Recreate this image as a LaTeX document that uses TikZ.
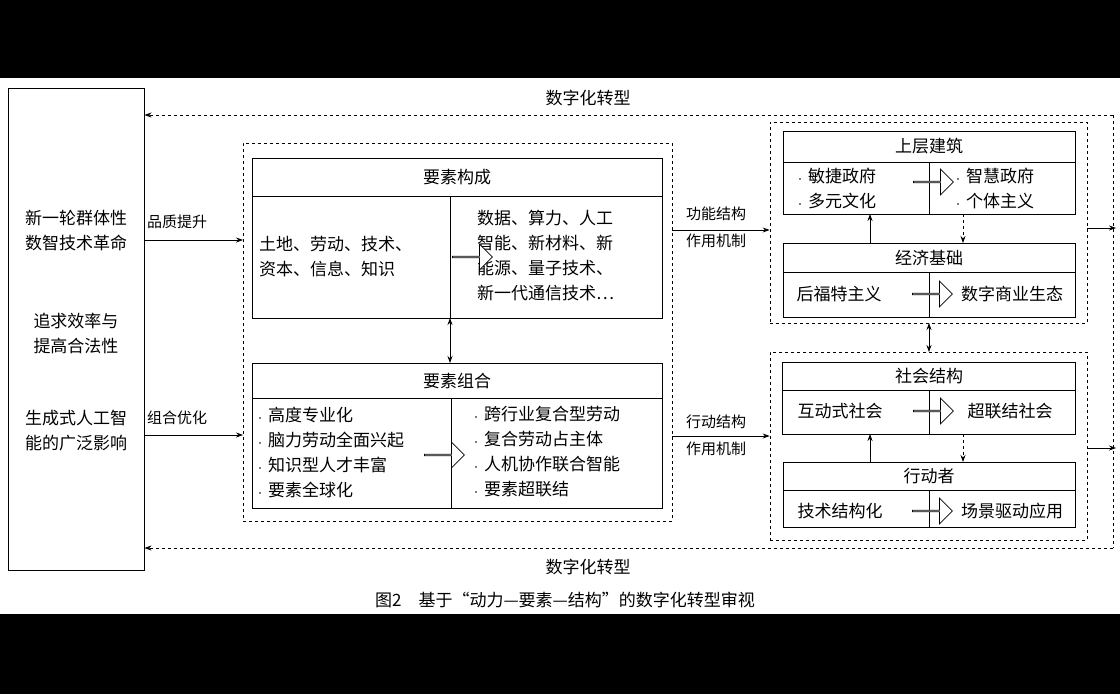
\documentclass[tikz,border=0pt]{standalone}
\usepackage{fontspec}
\setmainfont{Noto Sans CJK SC}
\usetikzlibrary{shapes.arrows,arrows.meta}
\newcommand{\bul}{{\fontsize{8}{8}\selectfont •}\hspace{4pt}}
\begin{document}
\begin{tikzpicture}[x=1pt,y=-1pt,
  box/.style={draw,line width=0.9pt,inner sep=0pt},
  dbox/.style={draw,dashed,line width=0.7pt,inner sep=0pt},
  txt/.style={font=\fontsize{17}{25}\selectfont,inner sep=0pt,align=left},
  lbl/.style={font=\fontsize{15}{27}\selectfont,inner sep=0pt,align=left},
  blk/.style={single arrow,draw,fill=white,line width=0.8pt,minimum height=40pt,minimum width=26pt,single arrow head extend=6pt,single arrow head indent=0pt,inner sep=0pt},
  arr/.style={-{Stealth[length=7pt,width=5pt]},line width=0.8pt},
  darr/.style={-{Stealth[length=7pt,width=5pt]},line width=0.8pt,dashed}]
\fill[black] (0,0) rectangle (1120,78);
\fill[black] (0,614) rectangle (1120,694);
\fill[white] (0,78) rectangle (1120,614);
% left box
\node[box,minimum width=136pt,minimum height=482pt] (L) at (76,329) {};
\node[txt,align=center] (l1) at (76,231) {新一轮群体性\\数智技术革命};
\node[txt,align=center] (l2) at (76,333) {追求效率与\\提高合法性};
\node[txt,align=center] (l3) at (76,431) {生成式人工智\\能的广泛影响};
% middle dashed
\node[dbox,minimum width=429pt,minimum height=378pt] (M) at (457.5,332) {};
\node[box,minimum width=410pt,minimum height=160pt] (YG) at (457,238) {};
\draw[line width=0.9pt] (252,196)--(662,196) (450,196)--(450,318);
\node[txt] (YGh) at (457,177) {要素构成};
\node[txt,anchor=west] (YGl) at (259,257) {土地、劳动、技术、\\资本、信息、知识};
\node[txt,anchor=west] (YGr) at (477,256) {数据、算力、人工\\智能、新材料、新\\能源、量子技术、\\新一代通信技术…};
\node[blk] (YGa) at (472,257) {};
\node[box,minimum width=410pt,minimum height=145pt] (YZ) at (457,435.5) {};
\draw[line width=0.9pt] (252,398)--(662,398) (451,398)--(451,508);
\node[txt] (YZh) at (457,381) {要素组合};
\node[txt,anchor=west] (YZl) at (256,452) {\bul 高度专业化\\\bul 脑力劳动全面兴起\\\bul 知识型人才丰富\\\bul 要素全球化};
\node[txt,anchor=west] (YZr) at (472,452) {\bul 跨行业复合型劳动\\\bul 复合劳动占主体\\\bul 人机协作联合智能\\\bul 要素超联结};
\node[blk] (YZa) at (444,455) {};
\draw[{Stealth[length=7pt,width=5pt]}-{Stealth[length=7pt,width=5pt]},line width=0.8pt] (450,318)--(450,363);
% left arrows
\coordinate (a1) at (144,240); \coordinate (a2) at (144,435);
\draw[arr] (a1)--(243,240);
\draw[arr] (a2)--(243,435);
\node[lbl] (p1) at (177,222) {品质提升};
\node[lbl] (p2) at (177,418) {组合优化};
% right dashed boxes
\node[dbox,minimum width=317pt,minimum height=201pt] (R1) at (928.5,222.5) {};
\node[dbox,minimum width=317pt,minimum height=188pt] (R2) at (928.5,446) {};
\draw[arr] (M.east|-0,230)--(R1.west|-0,230);
\draw[arr] (M.east|-0,436)--(R2.west|-0,436);
\node[lbl,align=center] (f1) at (716,227) {功能结构\\作用机制};
\node[lbl,align=center] (f2) at (716,435) {行动结构\\作用机制};
% 上层建筑
\node[box,minimum width=292pt,minimum height=83pt] (SC) at (929,172.5) {};
\draw[line width=0.9pt] (783,162)--(1075,162) (929,162)--(929,214);
\node[txt] (SCh) at (929,146) {上层建筑};
\node[txt,anchor=west] (SCl) at (796,188) {\bul 敏捷政府\\\bul 多元文化};
\node[txt,anchor=west] (SCr) at (954,188) {\bul 智慧政府\\\bul 个体主义};
\node[blk] (SCa) at (933,182) {};
% 经济基础
\node[box,minimum width=292pt,minimum height=74pt] (JJ) at (929,280) {};
\draw[line width=0.9pt] (783,272)--(1075,272) (929,272)--(929,317);
\node[txt] (JJh) at (929,258) {经济基础};
\node[txt] (JJl) at (839,294) {后福特主义};
\node[txt] (JJr) at (1012,294) {数字商业生态};
\node[blk] (JJa) at (932,294) {};
\draw[arr] (870,243)--(870,214);
\draw[darr] (963,214)--(963,243);
\draw[{Stealth[length=7pt,width=5pt]}-{Stealth[length=7pt,width=5pt]},line width=0.8pt] (929,323)--(929,352);
% 社会结构
\node[box,minimum width=293pt,minimum height=72pt] (SH) at (928.5,398) {};
\draw[line width=0.9pt] (782,390)--(1075,390) (929,390)--(929,434);
\node[txt] (SHh) at (929,376) {社会结构};
\node[txt] (SHl) at (840,411) {互动式社会};
\node[txt] (SHr) at (1010,411) {超联结社会};
\node[blk] (SHa) at (933,411) {};
% 行动者
\node[box,minimum width=292pt,minimum height=65pt] (XD) at (929,494.5) {};
\draw[line width=0.9pt] (783,490)--(1075,490) (929,490)--(929,527);
\node[txt] (XDh) at (929,476) {行动者};
\node[txt] (XDl) at (840,511) {技术结构化};
\node[txt] (XDr) at (1012,511) {场景驱动应用};
\node[blk] (XDa) at (932,511) {};
\draw[arr] (870,462)--(870,434);
\draw[darr] (963,434)--(963,462);
% outer feedback
\draw[arr] (R1.east|-0,228)--(1116,228);
\draw[arr] (R2.east|-0,448)--(1116,448);
\draw[darr] (1113,115)--(L.east|-0,115);
\draw[darr] (1113,548)--(L.east|-0,548);
\draw[dashed,line width=0.7pt] (1113,115)--(1113,548);
\node[txt] (t1) at (588,98) {数字化转型};
\node[txt] (t2) at (588,567) {数字化转型};
\node[txt] (cap) at (565,600) {图2\quad 基于“动力—要素—结构”的数字化转型审视};
\end{tikzpicture}
\end{document}
